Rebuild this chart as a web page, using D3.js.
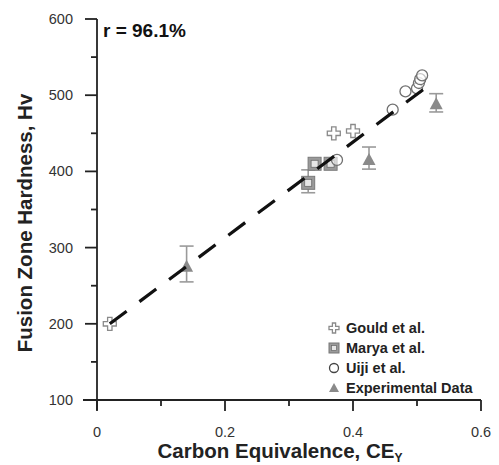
<!DOCTYPE html>
<html><head><meta charset="utf-8">
<script src="https://cdn.jsdelivr.net/npm/d3@7/dist/d3.min.js"></script>
<style>body{margin:0;background:#fff;}svg{display:block;font-family:Arial,"Liberation Sans",sans-serif;}</style>
</head><body><svg id="c" width="499" height="465"></svg>
<script>
const xTicks = [0, 0.2, 0.4, 0.6];
const xMinor = [0.1, 0.3, 0.5];
const yTicks = [100, 200, 300, 400, 500, 600];
const yMinor = [150, 250, 350, 450, 550];
const gouldX = [0.02, 0.37, 0.40];
const gouldY = [200, 450, 453];
const maryaX = [0.33, 0.34, 0.365];
const maryaY = [385, 410, 410];
const maryaLo = [372, null, null];
const maryaHi = [402, null, null];
const uijiX = [0.375, 0.462, 0.482, 0.500, 0.503, 0.505, 0.508];
const uijiY = [415, 481, 505, 509, 516, 521, 526];
const expX = [0.14, 0.425, 0.53];
const expY = [275, 415, 488];
const expLo = [255, 403, 478];
const expHi = [302, 432, 502];
const fitX = [0.02, 0.525];
const fitY = [200, 517];
const legendLabels = ["Gould et al.", "Marya et al.", "Uiji et al.", "Experimental Data"];

const svg = d3.select("#c");
const x = d3.scaleLinear().domain([0, 0.6]).range([97, 481]);
const y = d3.scaleLinear().domain([100, 600]).range([400, 19]);
const gray = "#8a8a8a";

const g = svg.append("g");
function plusPath(cx, cy, a, b) {
  return `M${cx-a},${cy-b}H${cx+a}V${cy-a}H${cx+b}V${cy+a}H${cx+a}V${cy+b}H${cx-a}V${cy+a}H${cx-b}V${cy-a}H${cx-a}Z`;
}
function drawPlus(sel, cx, cy, a, b) {
  sel.append("path").attr("d", plusPath(cx, cy, a || 2.2, b || 6.5)).attr("fill", "#fff").attr("stroke", gray).attr("stroke-width", 1.3);
}
function drawSquare(sel, cx, cy) {
  sel.append("rect").attr("x", cx-6.5).attr("y", cy-6.5).attr("width", 13).attr("height", 13).attr("fill", "#9a9a9a").attr("stroke", "#7a7a7a").attr("stroke-width", 1);
  sel.append("rect").attr("x", cx-3.5).attr("y", cy-3.5).attr("width", 7).attr("height", 7).attr("fill", "#e6e6e6").attr("stroke", "#6a6a6a").attr("stroke-width", 0.8);
}
function drawCircle(sel, cx, cy, col) {
  sel.append("circle").attr("cx", cx).attr("cy", cy).attr("r", 5.5).attr("fill", "#fff").attr("fill-opacity", 0.6).attr("stroke", col || "#707070").attr("stroke-width", 1.3);
}
function drawTri(sel, cx, cy) {
  sel.append("path").attr("d", `M${cx},${cy-7}L${cx+6.5},${cy+5}L${cx-6.5},${cy+5}Z`).attr("fill", gray);
}
function errBar(sel, cx, lo, hi) {
  const e = sel.append("g").attr("stroke", "#9a9a9a").attr("stroke-width", 1.6);
  e.append("line").attr("x1", cx).attr("x2", cx).attr("y1", y(lo)).attr("y2", y(hi));
  e.append("line").attr("x1", cx-7).attr("x2", cx+7).attr("y1", y(lo)).attr("y2", y(lo));
  e.append("line").attr("x1", cx-7).attr("x2", cx+7).attr("y1", y(hi)).attr("y2", y(hi));
}

expX.forEach((v, i) => { errBar(g, x(v), expLo[i], expHi[i]); });
maryaX.forEach((v, i) => { if (maryaLo[i] != null) errBar(g, x(v), maryaLo[i], maryaHi[i]); });
maryaX.forEach((v, i) => drawSquare(g, x(v), y(maryaY[i])));
expX.forEach((v, i) => drawTri(g, x(v), y(expY[i])));
gouldX.forEach((v, i) => drawPlus(g, x(v), y(gouldY[i])));
uijiX.forEach((v, i) => drawCircle(g, x(v), y(uijiY[i])));

svg.append("path")
  .attr("d", d3.line().x(d => x(d[0])).y(d => y(d[1]))(fitX.map((v, i) => [v, fitY[i]])))
  .attr("fill", "none").attr("stroke", "#111").attr("stroke-width", 3.2)
  .attr("stroke-dasharray", "21,16");

const ax = svg.append("g").attr("stroke", "#222").attr("stroke-width", 1.8);
ax.append("line").attr("x1", 83).attr("x2", x(0.6)).attr("y1", y(100)).attr("y2", y(100));
ax.append("line").attr("x1", x(0)).attr("x2", x(0)).attr("y1", y(600)).attr("y2", y(100) + 10);
yTicks.forEach(t => ax.append("line").attr("x1", x(0) - 12).attr("x2", x(0)).attr("y1", y(t)).attr("y2", y(t)));
yMinor.forEach(t => ax.append("line").attr("x1", x(0) - 6).attr("x2", x(0)).attr("y1", y(t)).attr("y2", y(t)));
xTicks.forEach(t => ax.append("line").attr("x1", x(t)).attr("x2", x(t)).attr("y1", y(100)).attr("y2", y(100) + 11));
xMinor.forEach(t => ax.append("line").attr("x1", x(t)).attr("x2", x(t)).attr("y1", y(100)).attr("y2", y(100) + 6));

yTicks.forEach(t => svg.append("text").attr("x", 73).attr("y", y(t) + 5).attr("text-anchor", "end")
  .attr("font-size", 14.5).attr("fill", "#333").text(t));
xTicks.forEach(t => svg.append("text").attr("x", x(t)).attr("y", 437).attr("text-anchor", "middle")
  .attr("font-size", 14.5).attr("fill", "#333").text(t === 0 ? "0" : d3.format(".1f")(t)));

const xt = svg.append("text").attr("x", 280).attr("y", 458).attr("text-anchor", "middle")
  .attr("font-size", 20.5).attr("font-weight", "bold").attr("fill", "#222");
xt.append("tspan").text("Carbon Equivalence, CE");
xt.append("tspan").attr("font-size", 12).attr("dy", 4).text("Y");
svg.append("text").attr("transform", "translate(32,223) rotate(-90)").attr("text-anchor", "middle")
  .attr("font-size", 20.5).attr("font-weight", "bold").attr("fill", "#222").text("Fusion Zone Hardness, Hv");

svg.append("text").attr("x", 103).attr("y", 37).attr("font-size", 19).attr("font-weight", "bold")
  .attr("fill", "#111").text("r = 96.1%");

const lg = svg.append("g");
const rows = [328, 348, 368, 388];
const lx = 334;
drawPlus(lg, lx, rows[0], 1.6, 5);
lg.append("rect").attr("x", lx-5).attr("y", rows[1]-5).attr("width", 10).attr("height", 10).attr("fill", "#9a9a9a").attr("stroke", "#777");
lg.append("rect").attr("x", lx-2.5).attr("y", rows[1]-2.5).attr("width", 5).attr("height", 5).attr("fill", "#e6e6e6").attr("stroke", "#666").attr("stroke-width", 0.7);
lg.append("circle").attr("cx", lx).attr("cy", rows[2]).attr("r", 4.5).attr("fill", "#fff").attr("stroke", "#444").attr("stroke-width", 1.3);
lg.append("path").attr("d", `M${lx},${rows[3]-5}L${lx+5},${rows[3]+4}L${lx-5},${rows[3]+4}Z`).attr("fill", gray);
legendLabels.forEach((s, i) => lg.append("text").attr("x", 346).attr("y", rows[i] + 5)
  .attr("font-size", 14.5).attr("font-weight", "bold").attr("fill", "#222").text(s));
</script></body></html>
